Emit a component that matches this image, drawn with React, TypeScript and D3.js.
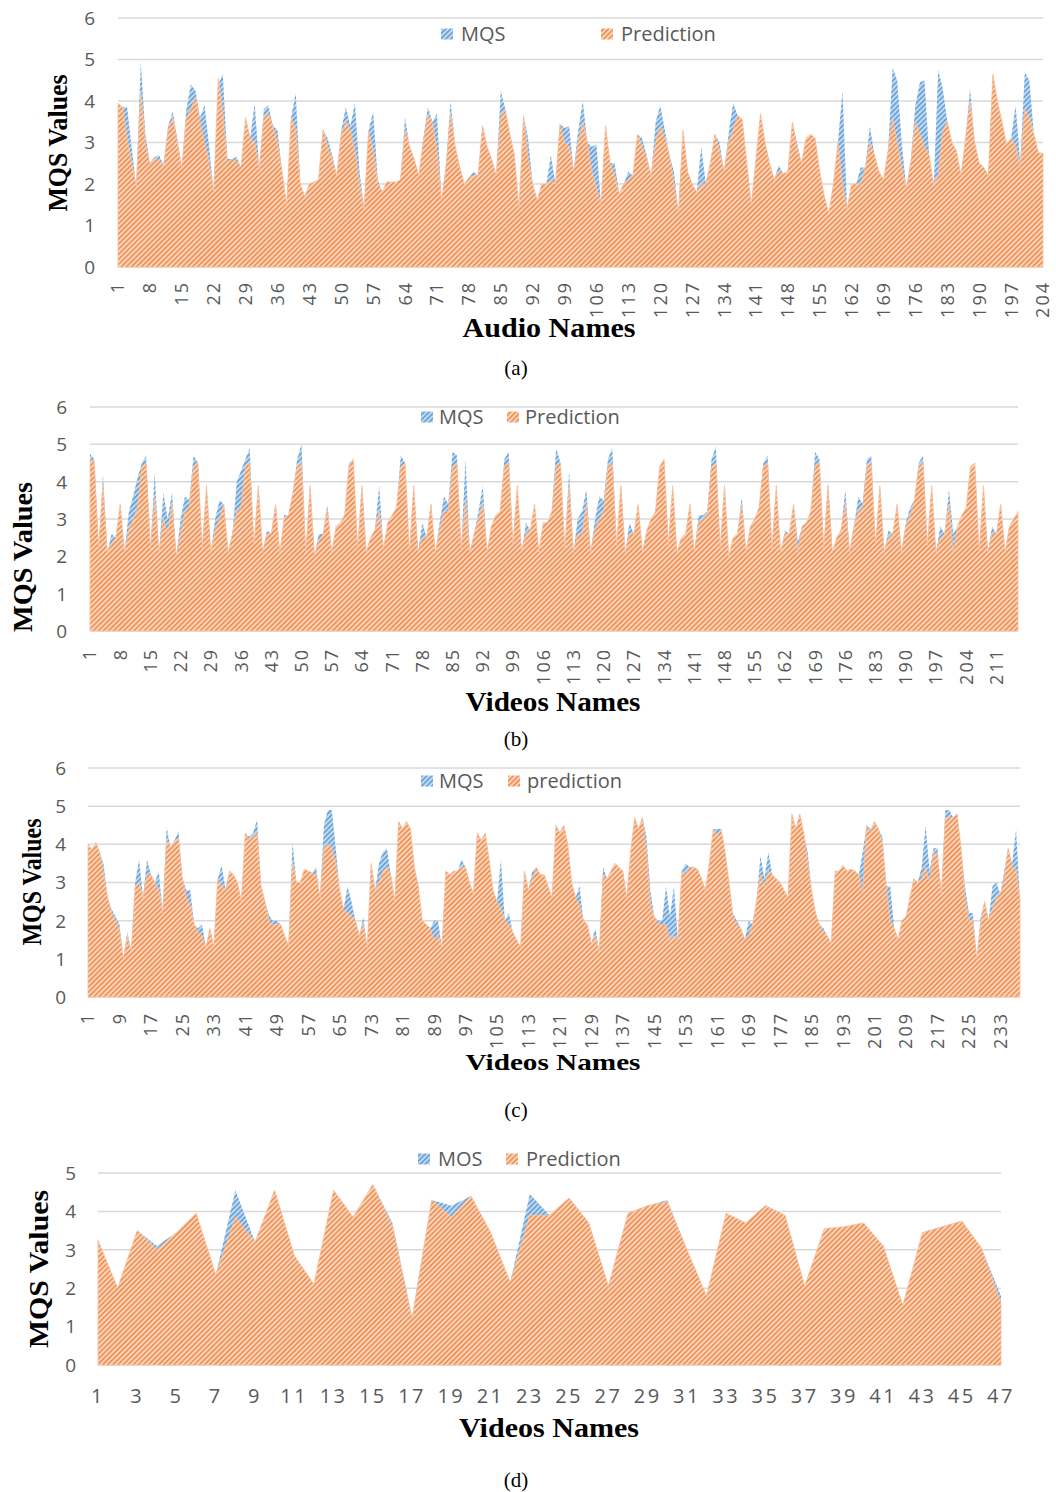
import React from "react";
import * as d3 from "d3";

// (a) audio clips, 204 points
const audioPrediction = [
  3.95, 3.85, 3.1, 2.5, 1.95, 4.2, 3.0, 2.45, 2.65, 2.55, 2.45, 3.3, 3.6, 3.0, 2.4, 3.6, 3.8, 4.1, 3.5, 3.0,
  2.5, 1.8, 4.55, 3.7, 2.5, 2.6, 2.55, 2.4, 3.6, 3.1, 3.0, 2.35, 3.6, 3.7, 3.4, 3.0, 2.3, 1.5, 3.6, 3.3,
  2.0, 1.7, 2.0, 2.05, 2.1, 3.3, 2.9, 2.6, 2.2, 3.2, 3.5, 3.3, 2.8, 2.0, 1.4, 3.3, 2.8, 2.0, 1.8, 2.05,
  2.05, 2.05, 2.1, 3.3, 2.9, 2.6, 2.2, 3.0, 3.65, 3.5, 2.8, 1.6, 2.4, 3.7, 2.9, 2.4, 2.0, 2.15, 2.2, 2.2,
  3.4, 2.9, 2.6, 2.2, 3.6, 3.8, 3.2, 2.7, 1.4, 3.65, 2.6, 2.0, 1.6, 2.0, 2.0, 2.1, 2.0, 3.45, 3.0, 2.9,
  2.3, 3.0, 3.5, 3.0, 2.3, 1.9, 1.5, 3.4, 2.5, 2.2, 1.75, 2.0, 2.1, 2.2, 3.2, 2.9, 2.6, 2.2, 3.0, 3.4,
  3.1, 2.7, 2.0, 1.3, 3.3, 2.3, 2.0, 1.8, 2.0, 2.0, 2.5, 3.2, 2.8, 2.3, 3.0, 3.3, 3.65, 3.55, 2.5, 1.5,
  2.6, 3.7, 3.0, 2.5, 2.1, 2.3, 2.25, 2.3, 3.5, 2.9, 2.5, 3.1, 3.2, 3.1, 2.3, 1.7, 1.3, 2.0, 3.0, 2.0,
  1.4, 2.0, 2.0, 2.0, 2.4, 3.0, 2.7, 2.3, 2.1, 2.8, 3.6, 3.0, 2.4, 1.9, 2.5, 3.5, 3.2, 2.9, 2.7, 2.0,
  2.2, 3.3, 3.5, 3.0, 2.8, 2.2, 3.1, 4.0, 3.0, 2.5, 2.4, 2.2, 4.65, 4.0, 3.5, 2.95, 3.1, 2.9, 2.4, 3.8,
  3.6, 3.2, 2.75, 2.75,
];
const audioMqs = [
  3.95, 3.85, 3.85, 2.9, 1.9, 4.95, 3.2, 2.5, 2.65, 2.7, 2.45, 3.4, 3.75, 3.1, 2.4, 3.8, 4.4, 4.25, 3.6, 3.9,
  2.9, 1.8, 4.4, 4.65, 2.6, 2.6, 2.65, 2.4, 3.6, 3.1, 3.95, 2.35, 3.8, 3.9, 3.4, 3.3, 2.3, 1.45, 3.6, 4.2,
  2.0, 1.7, 2.0, 2.05, 2.1, 3.3, 3.1, 2.7, 2.2, 3.3, 3.85, 3.4, 3.95, 2.3, 1.4, 3.3, 3.75, 2.1, 1.8, 2.05,
  2.05, 2.05, 2.1, 3.6, 2.9, 2.6, 2.2, 3.1, 3.85, 3.5, 3.7, 1.6, 2.5, 4.0, 2.9, 2.4, 2.0, 2.15, 2.3, 2.2,
  3.4, 2.9, 2.6, 2.2, 4.25, 3.8, 3.2, 2.7, 1.4, 3.65, 3.1, 2.0, 1.6, 2.0, 2.0, 2.7, 2.0, 3.45, 3.35, 3.4,
  2.3, 3.3, 4.0, 3.0, 2.9, 2.95, 1.5, 3.4, 2.5, 2.5, 1.75, 2.0, 2.3, 2.2, 3.2, 3.1, 2.7, 2.2, 3.5, 3.9,
  3.3, 2.7, 2.3, 1.3, 3.3, 2.3, 2.0, 1.8, 2.9, 2.0, 2.5, 3.2, 3.0, 2.3, 3.2, 3.95, 3.65, 3.55, 2.5, 1.5,
  2.6, 3.7, 3.0, 2.5, 2.1, 2.45, 2.25, 2.3, 3.5, 3.0, 2.5, 3.1, 3.2, 3.1, 2.3, 1.7, 1.1, 2.0, 3.0, 4.25,
  1.4, 2.0, 2.0, 2.4, 2.4, 3.4, 2.7, 2.3, 2.1, 2.8, 4.8, 4.5, 3.0, 1.9, 2.6, 3.9, 4.45, 4.5, 2.7, 1.9,
  4.75, 4.3, 3.5, 3.0, 2.8, 2.2, 3.1, 4.3, 3.0, 2.5, 2.4, 2.2, 4.65, 4.0, 3.5, 2.95, 3.1, 3.9, 2.5, 4.7,
  4.5, 3.2, 2.75, 2.75,
];

// (b) videos, 216 points
const videoBPrediction = [
  4.6, 4.5, 2.2, 3.95, 2.1, 2.35, 2.5, 3.4, 2.1, 2.7, 3.0, 3.3, 4.4, 4.5, 2.2, 3.6, 2.1, 3.0, 2.6, 3.4,
  2.0, 2.6, 3.2, 3.3, 4.4, 4.5, 2.2, 3.9, 2.1, 2.7, 3.0, 3.4, 2.1, 2.6, 3.2, 3.3, 4.4, 4.5, 2.3, 3.9,
  2.1, 2.6, 2.6, 3.4, 2.1, 3.0, 3.1, 3.7, 4.4, 4.5, 2.1, 3.9, 2.0, 2.4, 2.6, 3.3, 2.1, 2.8, 2.9, 3.1,
  4.4, 4.6, 2.2, 3.9, 2.1, 2.5, 2.7, 3.2, 2.2, 2.9, 3.1, 3.3, 4.4, 4.5, 2.1, 3.9, 2.1, 2.5, 2.5, 3.4,
  2.1, 2.7, 3.2, 3.2, 4.4, 4.5, 2.2, 3.5, 2.1, 2.6, 3.0, 3.4, 2.1, 2.8, 3.1, 3.2, 4.4, 4.5, 2.3, 3.9,
  2.1, 2.6, 2.7, 3.4, 2.1, 2.9, 2.9, 3.2, 4.4, 4.5, 2.2, 3.9, 2.1, 2.6, 2.6, 3.4, 2.1, 2.7, 3.0, 3.2,
  4.4, 4.5, 2.3, 3.9, 2.1, 2.6, 2.6, 3.4, 2.1, 2.7, 3.0, 3.2, 4.4, 4.6, 2.3, 3.9, 2.1, 2.5, 2.6, 3.4,
  2.1, 2.9, 3.0, 3.1, 4.4, 4.5, 2.2, 3.9, 2.0, 2.5, 2.6, 3.4, 2.1, 2.8, 3.0, 3.3, 4.4, 4.5, 2.2, 3.9,
  2.1, 2.6, 2.6, 3.4, 2.1, 2.8, 2.9, 3.2, 4.4, 4.5, 2.2, 3.9, 2.1, 2.5, 2.7, 3.4, 2.1, 2.8, 3.2, 3.3,
  4.4, 4.5, 2.3, 3.9, 2.1, 2.5, 2.6, 3.4, 2.1, 2.8, 3.1, 3.5, 4.4, 4.5, 2.3, 3.9, 2.1, 2.5, 2.6, 3.4,
  2.1, 2.8, 3.1, 3.3, 4.4, 4.5, 2.1, 3.9, 2.1, 2.6, 2.6, 3.4, 2.1, 2.8, 3.0, 3.2,
];
const videoBMqs = [
  4.75, 4.6, 2.2, 4.2, 2.1, 2.6, 2.5, 3.4, 2.1, 3.2, 3.6, 4.1, 4.5, 4.7, 2.2, 4.25, 2.1, 3.7, 3.0, 3.7,
  2.0, 3.0, 3.6, 3.5, 4.7, 4.5, 2.2, 3.9, 2.1, 3.0, 3.5, 3.4, 2.1, 2.6, 4.0, 4.3, 4.6, 4.9, 2.3, 3.9,
  2.1, 2.7, 2.6, 3.4, 2.1, 3.1, 3.1, 3.7, 4.6, 5.0, 2.1, 3.9, 2.0, 2.6, 2.6, 3.4, 2.1, 2.8, 2.9, 3.1,
  4.5, 4.6, 2.2, 3.9, 2.1, 2.5, 2.7, 3.9, 2.2, 2.9, 3.1, 3.3, 4.7, 4.5, 2.1, 3.9, 2.1, 2.9, 2.5, 3.4,
  2.1, 2.9, 3.6, 3.4, 4.8, 4.7, 2.2, 4.6, 2.1, 2.6, 3.2, 3.9, 2.1, 2.8, 3.1, 3.2, 4.6, 4.8, 2.3, 3.9,
  2.1, 2.9, 2.7, 3.4, 2.1, 2.9, 2.9, 3.2, 4.9, 4.5, 2.2, 4.3, 2.1, 3.0, 3.2, 3.8, 2.1, 3.0, 3.6, 3.5,
  4.6, 4.9, 2.3, 3.9, 2.1, 2.9, 2.6, 3.4, 2.1, 2.7, 3.0, 3.2, 4.4, 4.6, 2.3, 3.9, 2.1, 2.5, 2.6, 3.4,
  2.1, 3.1, 3.1, 3.2, 4.6, 4.95, 2.2, 3.9, 1.95, 2.5, 2.6, 3.6, 2.1, 2.8, 3.0, 3.3, 4.5, 4.7, 2.2, 3.9,
  2.1, 2.7, 2.6, 3.4, 2.4, 2.8, 2.9, 3.2, 4.8, 4.6, 2.2, 4.0, 2.1, 2.5, 2.7, 3.8, 2.1, 2.8, 3.6, 3.4,
  4.6, 4.7, 2.3, 3.9, 2.1, 2.7, 2.6, 3.4, 2.1, 2.9, 3.3, 3.5, 4.5, 4.7, 2.3, 3.9, 2.1, 2.8, 2.6, 3.8,
  2.6, 2.8, 3.1, 3.3, 4.4, 4.5, 2.1, 3.9, 2.1, 2.8, 2.6, 3.4, 2.1, 2.8, 3.0, 3.2,
];

// (c) videos, 238 points
const videoCPrediction = [
  4.0, 3.85, 4.05, 3.75, 3.2, 2.6, 2.2, 2.0, 1.75, 1.0, 1.6, 1.2, 2.9, 3.0, 2.6, 3.2, 3.2, 3.0, 2.8, 2.2,
  4.1, 3.9, 4.1, 4.15, 3.1, 2.6, 2.4, 1.9, 1.7, 1.6, 1.3, 1.8, 1.3, 3.1, 2.9, 2.8, 3.3, 3.2, 3.0, 2.5,
  4.3, 4.1, 4.2, 4.3, 2.9, 2.5, 2.0, 1.9, 1.9, 1.9, 1.6, 1.35, 3.5, 3.0, 3.0, 3.35, 3.3, 3.25, 3.2, 2.6,
  3.9, 4.0, 3.9, 3.5, 2.8, 2.3, 2.2, 2.1, 2.0, 1.6, 1.9, 1.3, 3.5, 2.8, 3.0, 3.3, 3.4, 3.2, 2.5, 4.6,
  4.4, 4.6, 4.4, 3.4, 2.9, 2.0, 1.9, 1.8, 1.5, 1.6, 1.3, 3.3, 3.2, 3.3, 3.3, 3.4, 3.4, 3.0, 2.7, 4.3,
  4.1, 4.3, 3.6, 2.8, 2.5, 2.3, 2.0, 1.9, 1.7, 1.5, 1.3, 3.3, 2.8, 3.1, 3.4, 3.2, 3.2, 2.9, 2.6, 4.5,
  4.3, 4.5, 4.0, 3.0, 2.6, 2.4, 2.0, 1.9, 1.4, 1.6, 1.2, 3.2, 3.1, 3.3, 3.5, 3.4, 3.3, 2.6, 3.8, 4.7,
  4.4, 4.7, 3.8, 2.4, 2.1, 1.9, 1.9, 1.9, 1.5, 1.6, 1.5, 3.3, 3.2, 3.4, 3.4, 3.35, 3.1, 2.8, 3.5, 4.4,
  4.2, 4.4, 3.8, 3.0, 2.1, 1.9, 1.8, 1.5, 1.6, 1.9, 2.5, 3.2, 2.9, 3.3, 3.2, 3.1, 3.0, 2.8, 2.6, 4.8,
  4.4, 4.8, 4.3, 3.5, 2.8, 2.2, 1.9, 1.7, 1.6, 1.4, 3.3, 3.3, 3.45, 3.3, 3.35, 3.3, 3.2, 2.7, 4.5, 4.3,
  4.6, 4.4, 4.0, 2.9, 2.0, 1.8, 1.5, 2.0, 2.1, 2.6, 3.1, 3.0, 3.1, 3.4, 3.0, 3.8, 3.7, 2.7, 4.7, 4.7,
  4.7, 4.8, 3.9, 2.6, 2.0, 2.0, 1.0, 1.9, 2.5, 2.0, 2.3, 2.6, 2.7, 3.1, 3.9, 3.4, 3.35, 2.5,
];
const videoCMqs = [
  4.0, 3.85, 4.05, 3.8, 3.45, 2.6, 2.3, 2.1, 1.9, 1.0, 1.7, 1.2, 3.0, 3.6, 2.6, 3.6, 3.2, 3.0, 3.3, 2.2,
  4.45, 3.9, 4.1, 4.35, 3.1, 2.8, 2.8, 1.9, 1.8, 1.9, 1.3, 1.8, 1.3, 3.1, 3.45, 2.8, 3.3, 3.2, 3.0, 2.5,
  4.3, 4.2, 4.3, 4.65, 2.9, 2.5, 2.15, 2.0, 2.0, 1.9, 1.6, 1.35, 4.05, 3.0, 3.0, 3.35, 3.3, 3.25, 3.4, 2.6,
  4.5, 4.9, 4.9, 3.9, 2.8, 2.3, 2.9, 2.5, 2.0, 1.6, 2.1, 1.3, 3.5, 2.8, 3.5, 3.8, 3.9, 3.2, 2.5, 4.6,
  4.4, 4.6, 4.4, 3.4, 2.9, 2.0, 1.9, 1.8, 2.0, 2.0, 1.3, 3.3, 3.2, 3.3, 3.3, 3.6, 3.4, 3.0, 2.7, 4.3,
  4.1, 4.3, 3.6, 2.8, 2.5, 3.6, 2.0, 2.2, 1.7, 1.5, 1.3, 3.3, 2.8, 3.3, 3.4, 3.2, 3.2, 2.9, 2.6, 4.5,
  4.3, 4.5, 4.0, 3.0, 2.6, 2.9, 2.0, 1.9, 1.4, 1.8, 1.2, 3.4, 3.1, 3.3, 3.5, 3.4, 3.3, 2.6, 3.8, 4.7,
  4.4, 4.7, 4.2, 2.8, 2.1, 2.0, 2.0, 2.9, 2.1, 2.9, 1.5, 3.3, 3.5, 3.4, 3.4, 3.35, 3.1, 2.8, 3.5, 4.4,
  4.4, 4.4, 3.8, 3.0, 2.2, 2.0, 1.8, 1.5, 2.0, 1.9, 2.5, 3.7, 3.1, 3.8, 3.2, 3.1, 3.0, 2.8, 2.6, 4.8,
  4.4, 4.8, 4.3, 3.8, 2.8, 2.2, 1.9, 1.8, 1.6, 1.4, 3.3, 3.3, 3.45, 3.3, 3.35, 3.3, 3.2, 3.8, 4.5, 4.4,
  4.6, 4.4, 4.2, 2.9, 2.9, 1.8, 1.5, 2.0, 2.1, 2.6, 3.1, 3.0, 3.4, 4.5, 3.3, 3.9, 3.9, 2.7, 4.9, 4.9,
  4.7, 4.8, 3.9, 2.9, 2.2, 2.2, 1.0, 2.1, 2.5, 2.0, 2.9, 3.0, 2.7, 3.3, 3.9, 3.5, 4.4, 2.5,
];

// (d) videos, 47 points
const videoDPrediction = [
  3.25, 2.0, 3.5, 3.0, 3.45, 3.95, 2.35, 3.85, 3.2, 4.55, 2.85, 2.1, 4.55, 3.85, 4.7, 3.6, 1.2, 4.3, 3.85, 4.4,
  3.45, 2.15, 3.9, 3.9, 4.35, 3.7, 2.05, 3.95, 4.15, 4.25, 3.0, 1.8, 3.95, 3.7, 4.15, 3.9, 2.05, 3.55, 3.6, 3.7,
  3.1, 1.55, 3.45, 3.6, 3.75, 3.05, 1.6,
];
const videoDMos = [
  3.25, 2.0, 3.5, 3.1, 3.45, 3.95, 2.35, 4.55, 3.2, 4.55, 2.85, 2.1, 4.55, 3.85, 4.7, 3.7, 1.25, 4.3, 4.15, 4.4,
  3.45, 2.15, 4.45, 3.9, 4.35, 3.7, 2.05, 3.95, 4.15, 4.3, 3.0, 1.8, 3.95, 3.7, 4.15, 3.9, 2.05, 3.55, 3.6, 3.7,
  3.1, 1.55, 3.45, 3.6, 3.75, 3.05, 1.8,
];

const ORANGE = "#EF8747";
const BLUE = "#5B9BD5";
const GRID = "#D9D9D9";
const INK = "#595959";
const SANS = "'Open Sans', 'DejaVu Sans', sans-serif";
const SERIF = "'Liberation Serif', 'Times New Roman', serif";

type Panel = {
  actual: number[];
  prediction: number[];
  actualName: string;
  predName: string;
  left: number;
  right: number;
  top: number;
  bottom: number;
  yMax: number;
  tickStep: number;
  rotated: boolean;
  labelPos: number;
  yTickRight: number;
  legendY: number;
  legendA: [number, number];
  legendP: [number, number];
  xTitle: string;
  xTitlePos: [number, number, number, number];
  yTitlePos: [number, number, number, number];
  caption: string;
  captionY: number;
};

const panels: Panel[] = [
  {
    actual: audioMqs, prediction: audioPrediction, actualName: "MQS", predName: "Prediction",
    left: 118, right: 1043, top: 18, bottom: 267, yMax: 6, tickStep: 7, rotated: true, labelPos: 281,
    yTickRight: 95, legendY: 34, legendA: [441, 461], legendP: [601, 621],
    xTitle: "Audio Names", xTitlePos: [549, 337, 27, 173], yTitlePos: [58, 143, 27, 137],
    caption: "(a)", captionY: 375,
  },
  {
    actual: videoBMqs, prediction: videoBPrediction, actualName: "MQS", predName: "Prediction",
    left: 90, right: 1018, top: 407, bottom: 631, yMax: 6, tickStep: 7, rotated: true, labelPos: 648,
    yTickRight: 67, legendY: 417, legendA: [421, 439], legendP: [507, 525],
    xTitle: "Videos Names", xTitlePos: [553, 711, 27, 175], yTitlePos: [22, 557, 28, 150],
    caption: "(b)", captionY: 746,
  },
  {
    actual: videoCMqs, prediction: videoCPrediction, actualName: "MQS", predName: "prediction",
    left: 88, right: 1020, top: 768, bottom: 997, yMax: 6, tickStep: 8, rotated: true, labelPos: 1012,
    yTickRight: 66, legendY: 781, legendA: [421, 439], legendP: [508, 527],
    xTitle: "Videos Names", xTitlePos: [553, 1070, 23, 175], yTitlePos: [32, 882, 27, 127],
    caption: "(c)", captionY: 1117,
  },
  {
    actual: videoDMos, prediction: videoDPrediction, actualName: "MOS", predName: "Prediction",
    left: 98, right: 1001, top: 1173, bottom: 1365, yMax: 5, tickStep: 2, rotated: false, labelPos: 1403,
    yTickRight: 76, legendY: 1159, legendA: [418, 438], legendP: [506, 526],
    xTitle: "Videos Names", xTitlePos: [549, 1437, 28, 180], yTitlePos: [38, 1269, 28, 158],
    caption: "(d)", captionY: 1487,
  },
];

function AreaPanel({ p }: { p: Panel }) {
  const n = p.prediction.length;
  const x = d3.scaleLinear().domain([0, n - 1]).range([p.left, p.right]);
  const y = d3.scaleLinear().domain([0, p.yMax]).range([p.bottom, p.top]);
  const area = d3
    .area<number>()
    .x((_, i) => x(i))
    .y0(y(0))
    .y1((d) => y(d));
  const ticks = d3.range(0, p.yMax + 1);
  const labels = d3.range(0, n, p.tickStep);

  return (
    <g>
      {ticks.map((t) => (
        <g key={t}>
          <line x1={p.left} x2={p.right} y1={y(t)} y2={y(t)} stroke={GRID} strokeWidth={1.5} />
          <text x={p.yTickRight} y={y(t)} dy="0.36em" textAnchor="end" fontSize={19} fill={INK} fontFamily={SANS}>
            {t}
          </text>
        </g>
      ))}
      <path d={area(p.actual) ?? ""} fill="url(#hatchBlue)" />
      <path d={area(p.prediction) ?? ""} fill="url(#hatchOrange)" stroke="#F8C3A0" strokeWidth={0.8} />

      {labels.map((i) =>
        p.rotated ? (
          <text
            key={i}
            transform={`translate(${x(i)},${p.labelPos}) rotate(-90)`}
            dy="0.36em"
            textAnchor="end"
            fontSize={18}
            letterSpacing={2}
            fill={INK}
            fontFamily={SANS}
          >
            {i + 1}
          </text>
        ) : (
          <text key={i} x={x(i)} y={p.labelPos} textAnchor="middle" fontSize={20} letterSpacing={2.5} fill={INK} fontFamily={SANS}>
            {i + 1}
          </text>
        )
      )}

      <rect x={p.legendA[0]} y={p.legendY - 5.5} width={12} height={11} fill="url(#hatchBlue)" />
      <text x={p.legendA[1]} y={p.legendY} dy="0.35em" fontSize={20} fill={INK} fontFamily={SANS}>
        {p.actualName}
      </text>
      <rect x={p.legendP[0]} y={p.legendY - 5.5} width={12} height={11} fill="url(#hatchOrange)" />
      <text x={p.legendP[1]} y={p.legendY} dy="0.35em" fontSize={20} fill={INK} fontFamily={SANS}>
        {p.predName}
      </text>

      <text
        x={p.xTitlePos[0]}
        y={p.xTitlePos[1]}
        textAnchor="middle"
        fontSize={p.xTitlePos[2]}
        fontWeight="bold"
        fontFamily={SERIF}
        textLength={p.xTitlePos[3]}
        lengthAdjust="spacingAndGlyphs"
      >
        {p.xTitle}
      </text>
      <text
        transform={`translate(${p.yTitlePos[0]},${p.yTitlePos[1]}) rotate(-90)`}
        textAnchor="middle"
        dy="0.35em"
        fontSize={p.yTitlePos[2]}
        fontWeight="bold"
        fontFamily={SERIF}
        textLength={p.yTitlePos[3]}
        lengthAdjust="spacingAndGlyphs"
      >
        MQS Values
      </text>
      <text x={516} y={p.captionY} textAnchor="middle" fontSize={21} fontFamily={SERIF}>
        {p.caption}
      </text>
    </g>
  );
}

export default function App() {
  return (
    <svg
      width={1056}
      height={1492}
      viewBox="0 0 1056 1492"
      style={{ position: "absolute", left: 0, top: 0, background: "#fff" }}
    >
      <defs>
        <pattern id="hatchOrange" patternUnits="userSpaceOnUse" width={3.6} height={10} patternTransform="rotate(45)">
          <rect width={3.6} height={10} fill="#FBD6BD" />
          <rect width={1.5} height={10} fill={ORANGE} />
        </pattern>
        <pattern id="hatchBlue" patternUnits="userSpaceOnUse" width={3.6} height={10} patternTransform="rotate(45)">
          <rect width={3.6} height={10} fill="#C3DAF0" />
          <rect width={1.5} height={10} fill={BLUE} />
        </pattern>
      </defs>
      {panels.map((p) => (
        <AreaPanel key={p.caption} p={p} />
      ))}
    </svg>
  );
}
